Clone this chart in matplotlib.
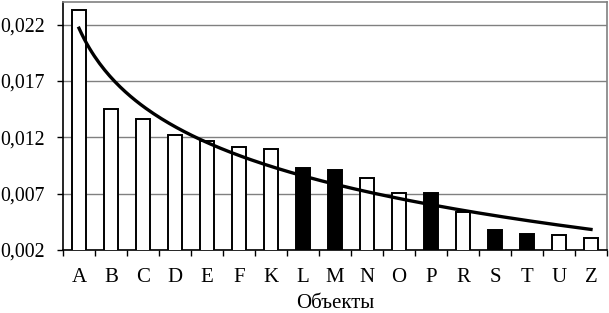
import numpy as np
import matplotlib
matplotlib.use("Agg")
import matplotlib.pyplot as plt
from matplotlib.ticker import FixedLocator, FuncFormatter

plt.rcParams['font.family'] = ['Liberation Serif', 'DejaVu Serif']

# data
objects = ['A', 'B', 'C', 'D', 'E', 'F', 'K', 'L', 'M', 'N', 'O', 'P', 'R', 'S', 'T', 'U', 'Z']
values = [0.0233, 0.0145, 0.0136, 0.0122, 0.0117, 0.0111, 0.0110, 0.0093, 0.0091,
          0.0084, 0.0071, 0.0071, 0.0054, 0.0038, 0.0034, 0.0033, 0.0031]
highlighted = ['L', 'M', 'P', 'S', 'T']
y_ticks = [0.002, 0.007, 0.012, 0.017, 0.022]

x = np.arange(len(objects))
colors = ['black' if o in highlighted else 'white' for o in objects]

fig = plt.figure(figsize=(6.09, 3.13), dpi=100)
ax = fig.add_axes([63 / 609, 1 - 250 / 313, 544 / 609, 248 / 313])

ax.bar(x, values, width=0.44, color=colors, edgecolor='black', linewidth=1.4, zorder=3)

# logarithmic trend line (Excel style)
b, a = np.polyfit(np.log(x + 1), values, 1)
xs = np.linspace(0, len(objects) - 1, 200)
ax.plot(xs, a + b * np.log(xs + 1), color='black', linewidth=2.4, zorder=4)

ax.set_xlim(-0.5, len(objects) - 0.5)
ax.set_ylim(0.002, 0.024)
ax.yaxis.set_major_locator(FixedLocator(y_ticks))
ax.yaxis.set_major_formatter(FuncFormatter(lambda v, p: f"{v:.3f}".replace('.', ',')))
ax.yaxis.grid(True, color='#808080', linewidth=1.0, zorder=0)

ax.set_xticks(x)
ax.set_xticklabels(objects)
ax.xaxis.set_minor_locator(FixedLocator(np.arange(-0.5, len(objects), 1)))
ax.tick_params(axis='x', which='major', length=0, pad=13, labelsize=15)
ax.tick_params(axis='x', which='minor', length=4, width=1, direction='out')
ax.tick_params(axis='y', length=4, width=1, pad=9, labelsize=14.3)

ax.spines['left'].set_color('black')
ax.spines['bottom'].set_color('black')
ax.spines['top'].set_color('#808080')
ax.spines['right'].set_color('#808080')
for s in ax.spines.values():
    s.set_linewidth(1.2)

ax.set_xlabel('Объекты', fontsize=15, labelpad=5)

fig.savefig('out.png', dpi=100)
